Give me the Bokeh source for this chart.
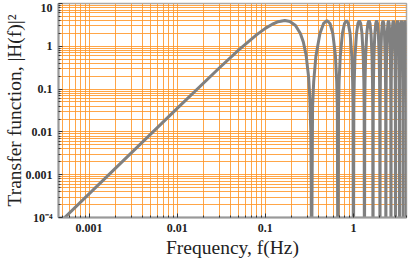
from bokeh.plotting import figure
from bokeh.models import FixedTicker, CustomJSTickFormatter, ColumnDataSource
from bokeh.embed import file_html
from bokeh.resources import INLINE

# ---- data: frequency (Hz) and |H(f)|^2 ----
freq_main = [0.0004, 0.001, 0.01, 0.03, 0.05, 0.08, 0.1, 0.12, 0.14, 0.16667,
             0.19, 0.22, 0.25, 0.27, 0.29, 0.31, 0.32, 0.328, 0.332]
power_main = [5.685e-5, 3.553e-4, 0.035426, 0.31134, 0.82443, 1.8744, 2.618, 3.2748, 3.7526, 4.0,
              3.8097, 3.0717, 2.0, 1.2637, 0.63093, 0.19034, 0.062832, 0.010098, 6.3165e-4]

freq_lobes = [
    0.33333, 0.34375, 0.35417, 0.375, 0.41667, 0.45833, 0.5, 0.54167, 0.58333, 0.625, 0.64583, 0.65625,
    0.66667, 0.67708, 0.6875, 0.70833, 0.75, 0.79167, 0.83333, 0.875, 0.91667, 0.95833, 0.97917, 0.98958,
    1.0, 1.01042, 1.02083, 1.04167, 1.08333, 1.125, 1.16667, 1.20833, 1.25, 1.29167, 1.3125, 1.32292,
    1.33333, 1.34375, 1.35417, 1.375, 1.41667, 1.45833, 1.5, 1.54167, 1.58333, 1.625, 1.64583, 1.65625,
    1.66667, 1.67708, 1.6875, 1.70833, 1.75, 1.79167, 1.83333, 1.875, 1.91667, 1.95833, 1.97917, 1.98958,
    2.0, 2.01042, 2.02083, 2.04167, 2.08333, 2.125, 2.16667, 2.20833, 2.25, 2.29167, 2.3125, 2.32292,
    2.33333, 2.34375, 2.35417, 2.375, 2.41667, 2.45833, 2.5, 2.54167, 2.58333, 2.625, 2.64583, 2.65625,
    2.66667, 2.67708, 2.6875, 2.70833, 2.75, 2.79167, 2.83333, 2.875, 2.91667, 2.95833, 2.97917, 2.98958,
    3.0, 3.01042, 3.02083, 3.04167, 3.08333, 3.125, 3.16667, 3.20833, 3.25, 3.29167, 3.3125, 3.32292,
    3.33333, 3.34375, 3.35417, 3.375, 3.41667, 3.45833, 3.5, 3.54167, 3.58333, 3.625, 3.64583, 3.65625,
    3.66667, 3.67708, 3.6875, 3.70833, 3.75, 3.79167, 3.83333, 3.875, 3.91667, 3.95833, 3.97917, 3.98958,
    4.0,
]
power_lobes = [
    1e-6, 0.0384, 0.1522, 0.5858, 2.0, 3.4142, 4.0, 3.4142, 2.0, 0.5858, 0.1522, 0.0384,
    1e-6, 0.0384, 0.1522, 0.5858, 2.0, 3.4142, 4.0, 3.4142, 2.0, 0.5858, 0.1522, 0.0384,
    1e-6, 0.0384, 0.1522, 0.5858, 2.0, 3.4142, 4.0, 3.4142, 2.0, 0.5858, 0.1522, 0.0384,
    1e-6, 0.0384, 0.1522, 0.5858, 2.0, 3.4142, 4.0, 3.4142, 2.0, 0.5858, 0.1522, 0.0384,
    1e-6, 0.0384, 0.1522, 0.5858, 2.0, 3.4142, 4.0, 3.4142, 2.0, 0.5858, 0.1522, 0.0384,
    1e-6, 0.0384, 0.1522, 0.5858, 2.0, 3.4142, 4.0, 3.4142, 2.0, 0.5858, 0.1522, 0.0384,
    1e-6, 0.0384, 0.1522, 0.5858, 2.0, 3.4142, 4.0, 3.4142, 2.0, 0.5858, 0.1522, 0.0384,
    1e-6, 0.0384, 0.1522, 0.5858, 2.0, 3.4142, 4.0, 3.4142, 2.0, 0.5858, 0.1522, 0.0384,
    1e-6, 0.0384, 0.1522, 0.5858, 2.0, 3.4142, 4.0, 3.4142, 2.0, 0.5858, 0.1522, 0.0384,
    1e-6, 0.0384, 0.1522, 0.5858, 2.0, 3.4142, 4.0, 3.4142, 2.0, 0.5858, 0.1522, 0.0384,
    1e-6, 0.0384, 0.1522, 0.5858, 2.0, 3.4142, 4.0, 3.4142, 2.0, 0.5858, 0.1522, 0.0384,
    1e-6,
]

x_ticks = [0.001, 0.01, 0.1, 1]
x_tick_labels = ["0.001", "0.01", "0.1", "1"]
y_ticks = [1e-4, 0.001, 0.01, 0.1, 1, 10]
y_tick_labels = ["10\u207b\u2074", "0.001", "0.01", "0.1", "1", "10"]

x_label = "Frequency, f(Hz)"
y_label = "Transfer function, |H(f)|\u00b2"

# ---- figure ----
SERIF = "Liberation Serif"
GRID = "#ff9628"

p = figure(frame_width=348, frame_height=214, x_axis_type="log", y_axis_type="log",
           x_range=(0.00045, 4.0), y_range=(1e-4, 10),
           output_backend="svg", toolbar_location=None,
           min_border_left=52, min_border_right=6, min_border_top=3, min_border_bottom=47)

def minor_for(lo_exp, hi_exp):
    return [m * 10.0 ** e for e in range(lo_exp, hi_exp) for m in range(2, 10)]

xticker = FixedTicker(ticks=[0.0001] + x_ticks + [10], minor_ticks=minor_for(-4, 1))
yticker = FixedTicker(ticks=y_ticks, minor_ticks=minor_for(-4, 1))

code = """
for (let i = 0; i < vals.length; i++) {
  if (Math.abs(Math.log10(tick) - Math.log10(vals[i])) < 1e-6) return labs[i];
}
return "";
"""
xfmt = CustomJSTickFormatter(args=dict(vals=x_ticks, labs=x_tick_labels), code=code)
yfmt = CustomJSTickFormatter(args=dict(vals=y_ticks, labs=y_tick_labels), code=code)

p.xaxis.ticker = xticker
p.yaxis.ticker = yticker
p.xgrid.ticker = xticker
p.ygrid.ticker = yticker
p.xaxis.formatter = xfmt
p.yaxis.formatter = yfmt

for g in (p.xgrid, p.ygrid):
    g.grid_line_color = GRID
    g.grid_line_width = 1
    g.grid_line_alpha = 0.85
    g.minor_grid_line_color = GRID
    g.minor_grid_line_width = 1
    g.minor_grid_line_alpha = 0.85

for ax in (p.xaxis, p.yaxis):
    ax.axis_line_color = "#999999"
    ax.axis_line_width = 2
    ax.major_tick_in = 4
    ax.major_tick_out = 0
    ax.minor_tick_in = 2
    ax.minor_tick_out = 0
    ax.major_tick_line_color = "#333333"
    ax.minor_tick_line_color = "#333333"
    ax.major_label_text_font = SERIF
    ax.major_label_text_font_style = "bold"
    ax.major_label_text_font_size = "12px"
    ax.major_label_text_color = "#222222"
    ax.axis_label_text_font = SERIF
    ax.axis_label_text_font_style = "normal"
    ax.axis_label_text_font_size = "19.5px"
    ax.axis_label_text_color = "#222222"

p.xaxis.axis_label = x_label
p.yaxis.axis_label = y_label
p.xaxis.major_label_standoff = 6
p.yaxis.major_label_standoff = 6
p.xaxis.axis_label_standoff = 2
p.yaxis.axis_label_standoff = -2

p.outline_line_color = "#aaaaaa"
p.outline_line_width = 1.5

src_main = ColumnDataSource(dict(f=freq_main + freq_lobes, h=power_main + power_lobes))
p.line("f", "h", source=src_main, line_color="#808080", line_width=3)

open("out.html", "w").write(file_html(p, INLINE))
